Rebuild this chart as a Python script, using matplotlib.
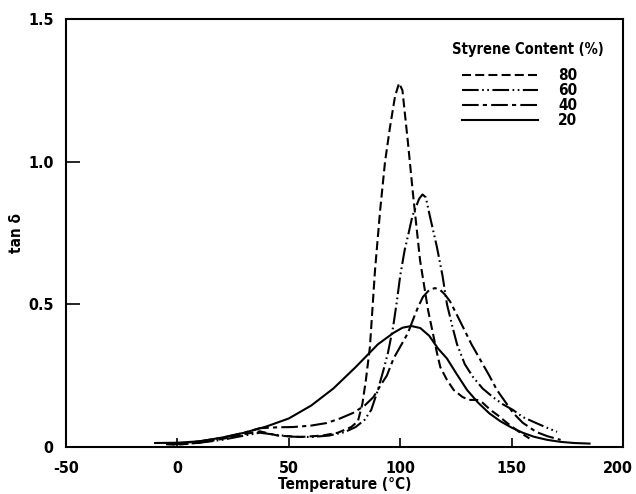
import matplotlib
matplotlib.use('Agg')
import matplotlib.pyplot as plt
import matplotlib.transforms as mtrans
from matplotlib.lines import Line2D

plt.rcParams['font.family'] = ['DejaVu Sans']
plt.rcParams['font.stretch'] = 'condensed'
plt.rcParams['font.weight'] = 'bold'
plt.rcParams['lines.scale_dashes'] = False
plt.rcParams['axes.unicode_minus'] = False

# styrene 80 %
t80 = [-5, 0, 10, 20, 30, 37, 45, 55, 65, 72, 78, 81, 83, 84.6, 86.4, 88.7, 91, 93.2,
       95.4, 97.7, 99.5, 101, 103.5, 105.7, 108.9, 112.5, 116.5, 118, 121, 124, 128,
       131, 134.5, 137, 140.5, 144, 148, 153, 158]
y80 = [0.01, 0.008, 0.015, 0.028, 0.045, 0.055, 0.04, 0.035, 0.04, 0.05, 0.07, 0.09,
       0.15, 0.235, 0.35, 0.62, 0.83, 1.0, 1.12, 1.23, 1.275, 1.25, 1.065, 0.89, 0.655,
       0.48, 0.33, 0.28, 0.235, 0.20, 0.175, 0.165, 0.165, 0.155, 0.13, 0.11, 0.084,
       0.055, 0.03]

# styrene 60 %
t60 = [-5, 0, 10, 20, 30, 37, 45, 52, 60, 68, 75, 80, 84, 87, 90, 92.5, 94.5, 96.8,
       98.5, 100, 102, 103.5, 105.5, 107, 108.5, 110, 111.5, 113, 116.5, 119, 121,
       123.5, 125.5, 129, 132.7, 137, 141.6, 146, 150.6, 155, 161, 166, 170.4]
y60 = [0.01, 0.01, 0.015, 0.025, 0.04, 0.05, 0.042, 0.036, 0.035, 0.04, 0.052, 0.07,
       0.095, 0.13, 0.2, 0.27, 0.33, 0.42, 0.51, 0.6, 0.69, 0.74, 0.81, 0.84, 0.87,
       0.885, 0.875, 0.82, 0.70, 0.6, 0.5, 0.42, 0.36, 0.29, 0.245, 0.205, 0.175,
       0.15, 0.13, 0.105, 0.084, 0.067, 0.053]

# styrene 40 %
t40 = [-5, 0, 10, 20, 30, 37, 45, 52, 60, 67, 73, 79, 84, 88, 91.5, 94, 97, 101,
       103.5, 105.7, 108, 110.2, 113, 115.6, 118, 120, 122.4, 125, 128.2, 132, 136,
       140, 143.4, 147, 150.6, 155, 161, 166, 172]
y40 = [0.012, 0.012, 0.02, 0.032, 0.05, 0.066, 0.069, 0.07, 0.075, 0.084, 0.1, 0.12,
       0.145, 0.175, 0.22, 0.25, 0.31, 0.365, 0.40, 0.445, 0.49, 0.526, 0.55, 0.557,
       0.55, 0.535, 0.51, 0.47, 0.42, 0.36, 0.305, 0.25, 0.2, 0.16, 0.12, 0.085,
       0.053, 0.038, 0.025]

# styrene 20 %
t20 = [-10, 0, 10, 20, 30, 40, 50, 60, 70, 80, 90, 97, 101, 105, 109, 113, 117, 121,
       125, 130, 135, 140, 145, 150, 155, 160, 166, 172, 178, 185]
y20 = [0.014, 0.015, 0.02, 0.033, 0.05, 0.072, 0.10, 0.145, 0.205, 0.28, 0.36, 0.40,
       0.418, 0.424, 0.417, 0.39, 0.345, 0.31, 0.26, 0.2, 0.155, 0.118, 0.09, 0.068,
       0.05, 0.036, 0.025, 0.018, 0.014, 0.012]

labels = ['80', '60', '40', '20']
xticks = [-50, 0, 50, 100, 150, 200]
yticks = [0, 0.5, 1.0, 1.5]
yticklabels = ['0', '0.5', '1.0', '1.5']

styles = [(0, (6.5, 3)),
          (0, (12, 2.5, 1.2, 2.5, 1.2, 2.5)),
          (0, (12, 3, 3, 3)),
          '-']

fsize = 11
lw = 1.5

fig = plt.figure(figsize=(6.36, 4.94), dpi=100)
ax = fig.add_axes([66 / 636, 1 - 447 / 494, 557 / 636, 428 / 494])

series = [(t80, y80), (t60, y60), (t40, y40), (t20, y20)]
handles = []
for (t, y), ls, lab in zip(series, styles, labels):
    ax.plot(t, y, color='black', lw=lw, linestyle=ls)
    handles.append(Line2D([], [], color='black', lw=lw, linestyle=ls, label=lab))

ax.set_xlim(-50, 200)
ax.set_ylim(0, 1.5)
ax.set_xticks(xticks)
ax.set_yticks(yticks)
ax.set_yticklabels(yticklabels)
ax.tick_params(axis='x', direction='in', length=6.5, width=1.2, labelsize=11.5, pad=10)
ax.tick_params(axis='y', direction='in', length=10, width=1.2, labelsize=11.5, pad=9)
for sp in ax.spines.values():
    sp.set_linewidth(1.5)

# the last x label sits a little left so it stays on the page
last = ax.get_xticklabels()[-1]
last.set_transform(last.get_transform() + mtrans.ScaledTranslation(-5 / 100, 0, fig.dpi_scale_trans))

ax.set_xlabel('Temperature (°C)', fontsize=fsize, fontweight='bold', labelpad=1)
ax.set_ylabel('tan δ', fontsize=fsize, fontweight='bold')
ax.yaxis.set_label_coords(-0.075, 0.5)

# legend title drawn on its own, entries below it
ax.text(0.693, 0.928, 'Styrene Content (%)', transform=ax.transAxes,
        ha='left', va='center', fontsize=10.5, fontweight='bold')
leg = ax.legend(handles=handles, loc='upper left', bbox_to_anchor=(0.711, 0.885),
                frameon=False, fontsize=fsize, handlelength=5.0, handletextpad=1.3,
                labelspacing=0.0, borderpad=0, borderaxespad=0)

fig.savefig('out.png', dpi=100)
